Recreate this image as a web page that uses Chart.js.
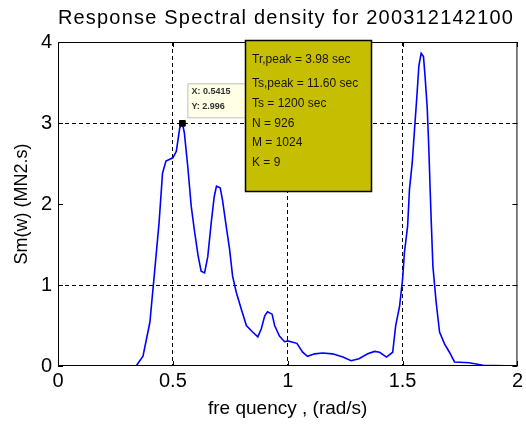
<!DOCTYPE html>
<html>
<head>
<meta charset="utf-8">
<script src="https://cdn.jsdelivr.net/npm/chart.js@4"></script>
<style>
  html, body { margin: 0; padding: 0; background: #fff; }
  #wrap { width: 526px; height: 425px; }
</style>
</head>
<body>
<div id="wrap"><canvas id="myChart" width="526" height="425"></canvas></div>
<script>
// spectrum
const freq = [0, 0.34, 0.37, 0.40, 0.42, 0.44, 0.455, 0.47, 0.50, 0.515, 0.53, 0.5415, 0.55, 0.565, 0.58, 0.595,
  0.61, 0.623, 0.638, 0.652, 0.667, 0.68, 0.69, 0.706, 0.716, 0.732, 0.747, 0.76, 0.776, 0.798, 0.82, 0.847,
  0.87, 0.885, 0.90, 0.912, 0.932, 0.943, 0.964, 0.986, 1.0, 1.04, 1.065, 1.086, 1.117, 1.152, 1.195, 1.24,
  1.276, 1.31, 1.348, 1.378, 1.40, 1.43, 1.457, 1.47, 1.487, 1.50, 1.508, 1.522, 1.53, 1.542, 1.552, 1.562,
  1.571, 1.581, 1.591, 1.598, 1.607, 1.614, 1.62, 1.625, 1.632, 1.646, 1.661, 1.683, 1.704, 1.726, 1.79, 1.85, 2.0];
const sm = [0, 0, 0.12, 0.54, 1.15, 1.77, 2.38, 2.53, 2.57, 2.65, 2.94, 2.996, 2.88, 2.46, 1.97, 1.65,
  1.36, 1.17, 1.15, 1.35, 1.77, 2.09, 2.22, 2.20, 2.05, 1.73, 1.44, 1.11, 0.91, 0.70, 0.50, 0.42,
  0.36, 0.46, 0.62, 0.67, 0.64, 0.50, 0.37, 0.30, 0.31, 0.28, 0.17, 0.12, 0.15, 0.16, 0.15, 0.11,
  0.065, 0.09, 0.15, 0.18, 0.17, 0.11, 0.17, 0.50, 0.74, 1.07, 1.40, 1.73, 2.18, 2.51, 2.92, 3.32,
  3.71, 3.86, 3.82, 3.57, 3.20, 2.71, 2.18, 1.77, 1.23, 0.79, 0.42, 0.27, 0.17, 0.05, 0.04, 0.01, 0];

const xTicks = [0, 0.5, 1, 1.5, 2];
const yTicks = [0, 1, 2, 3, 4];
const tipX = [0.5415];
const tipY = [2.996];
const infoLines = ['Tr,peak = 3.98 sec', 'Ts,peak = 11.60 sec', 'Ts = 1200 sec', 'N = 926', 'M = 1024', 'K = 9'];
const titleText = 'Response Spectral density for 200312142100';

const FONT = '"Liberation Sans", Arial, sans-serif';

const pts = freq.map((f, i) => ({ x: f, y: sm[i] }));
const tipPts = tipX.map((f, i) => ({ x: f, y: tipY[i] }));

const dashGrid = (ctx) => {
  const v = ctx.tick ? ctx.tick.value : null;
  return (v === 0 || v === 2 || v === 4) ? 'rgba(0,0,0,0)' : '#000';
};

const decorations = {
  id: 'decorations',
  afterDraw(chart) {
    const c = chart.ctx;
    const a = chart.chartArea;
    const xs = chart.scales.x, ys = chart.scales.y;
    c.save();
    // title
    c.fillStyle = '#000';
    c.font = '20px ' + FONT;
    c.letterSpacing = '1.2px';
    c.textAlign = 'center';
    c.textBaseline = 'middle';
    c.fillText(titleText, 286, 18);
    c.letterSpacing = '0px';
    // axes box
    c.strokeStyle = '#000';
    c.lineWidth = 1;
    c.strokeRect(a.left + 0.5, a.top + 0.5, a.right - a.left - 1, a.bottom - a.top - 1);
    // inward ticks
    xTicks.forEach(v => {
      const p = Math.round(xs.getPixelForValue(v)) + 0.5;
      c.beginPath();
      c.moveTo(p, a.bottom); c.lineTo(p, a.bottom - 5);
      c.moveTo(p, a.top); c.lineTo(p, a.top + 5);
      c.stroke();
    });
    yTicks.forEach(v => {
      const p = Math.round(ys.getPixelForValue(v)) + 0.5;
      c.beginPath();
      c.moveTo(a.left, p); c.lineTo(a.left + 5, p);
      c.moveTo(a.right, p); c.lineTo(a.right - 5, p);
      c.stroke();
    });
    // data tip box
    const tx = xs.getPixelForValue(tipX[0]);
    const ty = ys.getPixelForValue(tipY[0]);
    c.fillStyle = '#ffffe6';
    c.strokeStyle = '#c0c0c0';
    c.fillRect(tx + 5, ty - 40, 70, 34);
    c.strokeRect(tx + 5.5, ty - 39.5, 70, 34);
    c.fillStyle = '#333';
    c.font = 'bold 9px ' + FONT;
    c.textAlign = 'left';
    c.fillText('X: ' + tipX[0], tx + 9, ty - 32);
    c.fillText('Y: ' + tipY[0], tx + 9, ty - 17);
    // info box
    c.fillStyle = '#c6be00';
    c.fillRect(245, 40, 127, 152);
    c.strokeStyle = '#000';
    c.lineWidth = 1.5;
    c.strokeRect(245.5, 40.5, 126, 151);
    c.fillStyle = '#1a1600';
    c.font = '12px "Liberation Sans Narrow", "Liberation Sans", sans-serif';
    const lineY = [60, 84, 104, 124, 143, 163];
    infoLines.forEach((t, i) => c.fillText(t, 252, lineY[i]));
    c.restore();
  }
};

new Chart(document.getElementById('myChart'), {
  type: 'scatter',
  data: {
    datasets: [
      {
        data: pts,
        showLine: true,
        borderColor: '#0000ff',
        borderWidth: 1.6,
        pointRadius: 0,
        tension: 0,
        order: 2
      },
      {
        data: tipPts,
        pointStyle: 'rect',
        pointRadius: 4,
        backgroundColor: '#000',
        borderColor: '#000',
        order: 1
      }
    ]
  },
  plugins: [decorations],
  options: {
    responsive: false,
    animation: false,
    layout: { padding: { top: 42, right: 8, left: 0, bottom: 0 } },
    plugins: { legend: { display: false }, tooltip: { enabled: false } },
    scales: {
      x: {
        type: 'linear',
        min: 0, max: 2,
        afterBuildTicks: s => { s.ticks = xTicks.map(v => ({ value: v })); },
        afterFit: s => { s.height = 59; },
        ticks: { color: '#000', font: { family: FONT, size: 20 }, padding: 3, maxRotation: 0, callback: v => String(v) },
        grid: { color: dashGrid, drawTicks: false, lineWidth: 1 },
        border: { display: false, dash: [4, 3] },
        title: { display: true, text: 'fre quency , (rad/s)', color: '#000', font: { family: FONT, size: 19 }, padding: { top: 0, bottom: 5 } }
      },
      y: {
        type: 'linear',
        min: 0, max: 4,
        afterBuildTicks: s => { s.ticks = yTicks.map(v => ({ value: v })); },
        afterFit: s => { s.width = 58; },
        ticks: { color: '#000', font: { family: FONT, size: 20 }, padding: 6, callback: v => String(v) },
        grid: { color: dashGrid, drawTicks: false, lineWidth: 1 },
        border: { display: false, dash: [4, 3] },
        title: { display: true, text: 'Sm(w) (MN2.s)', color: '#000', font: { family: FONT, size: 18 }, padding: { top: 11, bottom: 0 } }
      }
    }
  }
});
</script>
</body>
</html>
